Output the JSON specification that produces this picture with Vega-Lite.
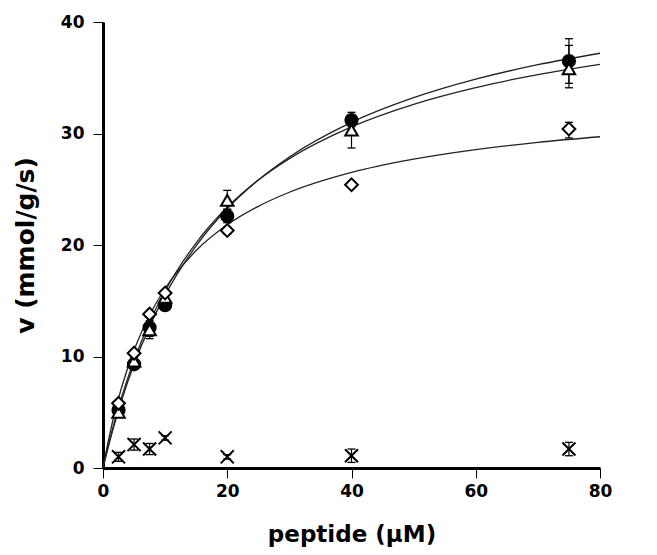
{
  "$schema": "https://vega.github.io/schema/vega-lite/v6.json",
  "autosize": "none",
  "width": 497,
  "height": 446,
  "padding": {"left": 103, "top": 22, "right": 57, "bottom": 87},
  "background": "white",
  "config": {
    "view": {"stroke": null},
    "font": "DejaVu Sans",
    "axis": {"grid": false, "domainColor": "black", "domainWidth": 3, "tickColor": "black", "tickWidth": 1, "tickSize": 10, "labelFont": "DejaVu Sans", "labelFontWeight": "bold", "labelFontSize": 17, "labelColor": "black", "titleFont": "DejaVu Sans", "titleFontWeight": "bold", "titleColor": "black", "titleFontSize": 23}
  },
  "datasets": {
    "pts": [
      {"series": "circle", "x": 2.5, "v": 5.2, "lo": 4.8, "hi": 5.6},
      {"series": "circle", "x": 5, "v": 9.3, "lo": 9.0, "hi": 9.6},
      {"series": "circle", "x": 7.5, "v": 12.6, "lo": 11.6, "hi": 13.2},
      {"series": "circle", "x": 10, "v": 14.6, "lo": 14.2, "hi": 15.0},
      {"series": "circle", "x": 20, "v": 22.6, "lo": 22.0, "hi": 23.2},
      {"series": "circle", "x": 40, "v": 31.2, "lo": 30.6, "hi": 31.9},
      {"series": "circle", "x": 75, "v": 36.5, "lo": 34.5, "hi": 38.5},
      {"series": "triangle", "x": 2.5, "v": 5.0, "lo": 4.6, "hi": 5.4},
      {"series": "triangle", "x": 5, "v": 9.6, "lo": 9.3, "hi": 9.9},
      {"series": "triangle", "x": 7.5, "v": 12.4, "lo": 11.8, "hi": 13.0},
      {"series": "triangle", "x": 10, "v": 15.3, "lo": 15.0, "hi": 15.6},
      {"series": "triangle", "x": 20, "v": 24.0, "lo": 23.2, "hi": 24.9},
      {"series": "triangle", "x": 40, "v": 30.3, "lo": 28.7, "hi": 31.2},
      {"series": "triangle", "x": 75, "v": 35.8, "lo": 34.1, "hi": 37.9},
      {"series": "diamond", "x": 2.5, "v": 5.8, "lo": 5.6, "hi": 6.0},
      {"series": "diamond", "x": 5, "v": 10.3, "lo": 10.1, "hi": 10.5},
      {"series": "diamond", "x": 7.5, "v": 13.8, "lo": 13.6, "hi": 14.0},
      {"series": "diamond", "x": 10, "v": 15.7, "lo": 15.5, "hi": 15.9},
      {"series": "diamond", "x": 20, "v": 21.3, "lo": 21.0, "hi": 21.6},
      {"series": "diamond", "x": 40, "v": 25.4, "lo": 25.2, "hi": 25.6},
      {"series": "diamond", "x": 75, "v": 30.4, "lo": 29.6, "hi": 31.0},
      {"series": "x", "x": 2.5, "v": 1.0, "lo": 0.6, "hi": 1.4},
      {"series": "x", "x": 5, "v": 2.1, "lo": 1.6, "hi": 2.6},
      {"series": "x", "x": 7.5, "v": 1.7, "lo": 1.2, "hi": 2.2},
      {"series": "x", "x": 10, "v": 2.7, "lo": 2.5, "hi": 2.9},
      {"series": "x", "x": 20, "v": 1.0, "lo": 0.8, "hi": 1.2},
      {"series": "x", "x": 40, "v": 1.1, "lo": 0.5, "hi": 1.7},
      {"series": "x", "x": 75, "v": 1.7, "lo": 1.1, "hi": 2.3}
    ],
    "curves": [
      {"series": "circle", "x": 0, "v": 0},
      {"series": "circle", "x": 1, "v": 2.214},
      {"series": "circle", "x": 2, "v": 4.227},
      {"series": "circle", "x": 3, "v": 6.065},
      {"series": "circle", "x": 5, "v": 9.3},
      {"series": "circle", "x": 7.5, "v": 12.68},
      {"series": "circle", "x": 10, "v": 15.5},
      {"series": "circle", "x": 15, "v": 19.93},
      {"series": "circle", "x": 20, "v": 23.25},
      {"series": "circle", "x": 25, "v": 25.83},
      {"series": "circle", "x": 30, "v": 27.9},
      {"series": "circle", "x": 40, "v": 31.0},
      {"series": "circle", "x": 50, "v": 33.21},
      {"series": "circle", "x": 60, "v": 34.875},
      {"series": "circle", "x": 70, "v": 36.17},
      {"series": "circle", "x": 80, "v": 37.2},
      {"series": "triangle", "x": 0, "v": 0},
      {"series": "triangle", "x": 1, "v": 2.344},
      {"series": "triangle", "x": 2, "v": 4.452},
      {"series": "triangle", "x": 3, "v": 6.359},
      {"series": "triangle", "x": 5, "v": 9.672},
      {"series": "triangle", "x": 7.5, "v": 13.08},
      {"series": "triangle", "x": 10, "v": 15.88},
      {"series": "triangle", "x": 15, "v": 20.2},
      {"series": "triangle", "x": 20, "v": 23.38},
      {"series": "triangle", "x": 25, "v": 25.82},
      {"series": "triangle", "x": 30, "v": 27.75},
      {"series": "triangle", "x": 40, "v": 30.6},
      {"series": "triangle", "x": 50, "v": 32.62},
      {"series": "triangle", "x": 60, "v": 34.12},
      {"series": "triangle", "x": 70, "v": 35.28},
      {"series": "triangle", "x": 80, "v": 36.2},
      {"series": "diamond", "x": 0, "v": 0},
      {"series": "diamond", "x": 1, "v": 2.817},
      {"series": "diamond", "x": 2, "v": 5.2},
      {"series": "diamond", "x": 3, "v": 7.243},
      {"series": "diamond", "x": 5, "v": 10.56},
      {"series": "diamond", "x": 7.5, "v": 13.7},
      {"series": "diamond", "x": 10, "v": 16.1},
      {"series": "diamond", "x": 15, "v": 19.5},
      {"series": "diamond", "x": 20, "v": 21.81},
      {"series": "diamond", "x": 25, "v": 23.47},
      {"series": "diamond", "x": 30, "v": 24.73},
      {"series": "diamond", "x": 40, "v": 26.51},
      {"series": "diamond", "x": 50, "v": 27.7},
      {"series": "diamond", "x": 60, "v": 28.56},
      {"series": "diamond", "x": 70, "v": 29.21},
      {"series": "diamond", "x": 80, "v": 29.71}
    ]
  },
  "layer": [
    {
      "data": {"name": "curves"},
      "mark": {"type": "line", "interpolate": "monotone", "color": "#222", "strokeWidth": 1.3, "clip": true},
      "encoding": {
        "x": {"field": "x", "type": "quantitative", "scale": {"domain": [0, 80], "nice": false}, "axis": {"values": [0, 20, 40, 60, 80], "title": "peptide (μM)", "labelPadding": 5, "titlePadding": 24, "labelFlush": false}},
        "y": {"field": "v", "type": "quantitative", "scale": {"domain": [0, 40], "nice": false}, "axis": {"values": [0, 10, 20, 30, 40], "title": "v (mmol/g/s)", "labelPadding": 9, "titlePadding": 22, "titleFontSize": 25}},
        "detail": {"field": "series"}
      }
    },
    {
      "data": {"name": "pts"},
      "mark": {"type": "rule", "color": "black", "strokeWidth": 1.2},
      "encoding": {
        "x": {"field": "x", "type": "quantitative"},
        "y": {"field": "lo", "type": "quantitative"},
        "y2": {"field": "hi"}
      }
    },
    {
      "data": {"name": "pts"},
      "mark": {"type": "point", "shape": "stroke", "stroke": "black", "strokeWidth": 1.3, "size": 64, "opacity": 1},
      "encoding": {
        "x": {"field": "x", "type": "quantitative"},
        "y": {"field": "lo", "type": "quantitative"}
      }
    },
    {
      "data": {"name": "pts"},
      "mark": {"type": "point", "shape": "stroke", "stroke": "black", "strokeWidth": 1.3, "size": 64, "opacity": 1},
      "encoding": {
        "x": {"field": "x", "type": "quantitative"},
        "y": {"field": "hi", "type": "quantitative"}
      }
    },
    {
      "data": {"name": "pts"},
      "mark": {"type": "point", "filled": true, "stroke": "black", "strokeWidth": 2, "opacity": 1},
      "encoding": {
        "x": {"field": "x", "type": "quantitative"},
        "y": {"field": "v", "type": "quantitative"},
        "shape": {"field": "series", "type": "nominal", "scale": {"domain": ["circle", "triangle", "diamond", "x"], "range": ["circle", "triangle-up", "diamond", "M-1,-1L1,1M-1,1L1,-1"]}, "legend": null},
        "fill": {"field": "series", "type": "nominal", "scale": {"domain": ["circle", "triangle", "diamond", "x"], "range": ["black", "white", "white", "white"]}, "legend": null},
        "size": {"field": "series", "type": "nominal", "scale": {"domain": ["circle", "triangle", "diamond", "x"], "range": [150, 170, 240, 60]}, "legend": null}
      }
    }
  ]
}
